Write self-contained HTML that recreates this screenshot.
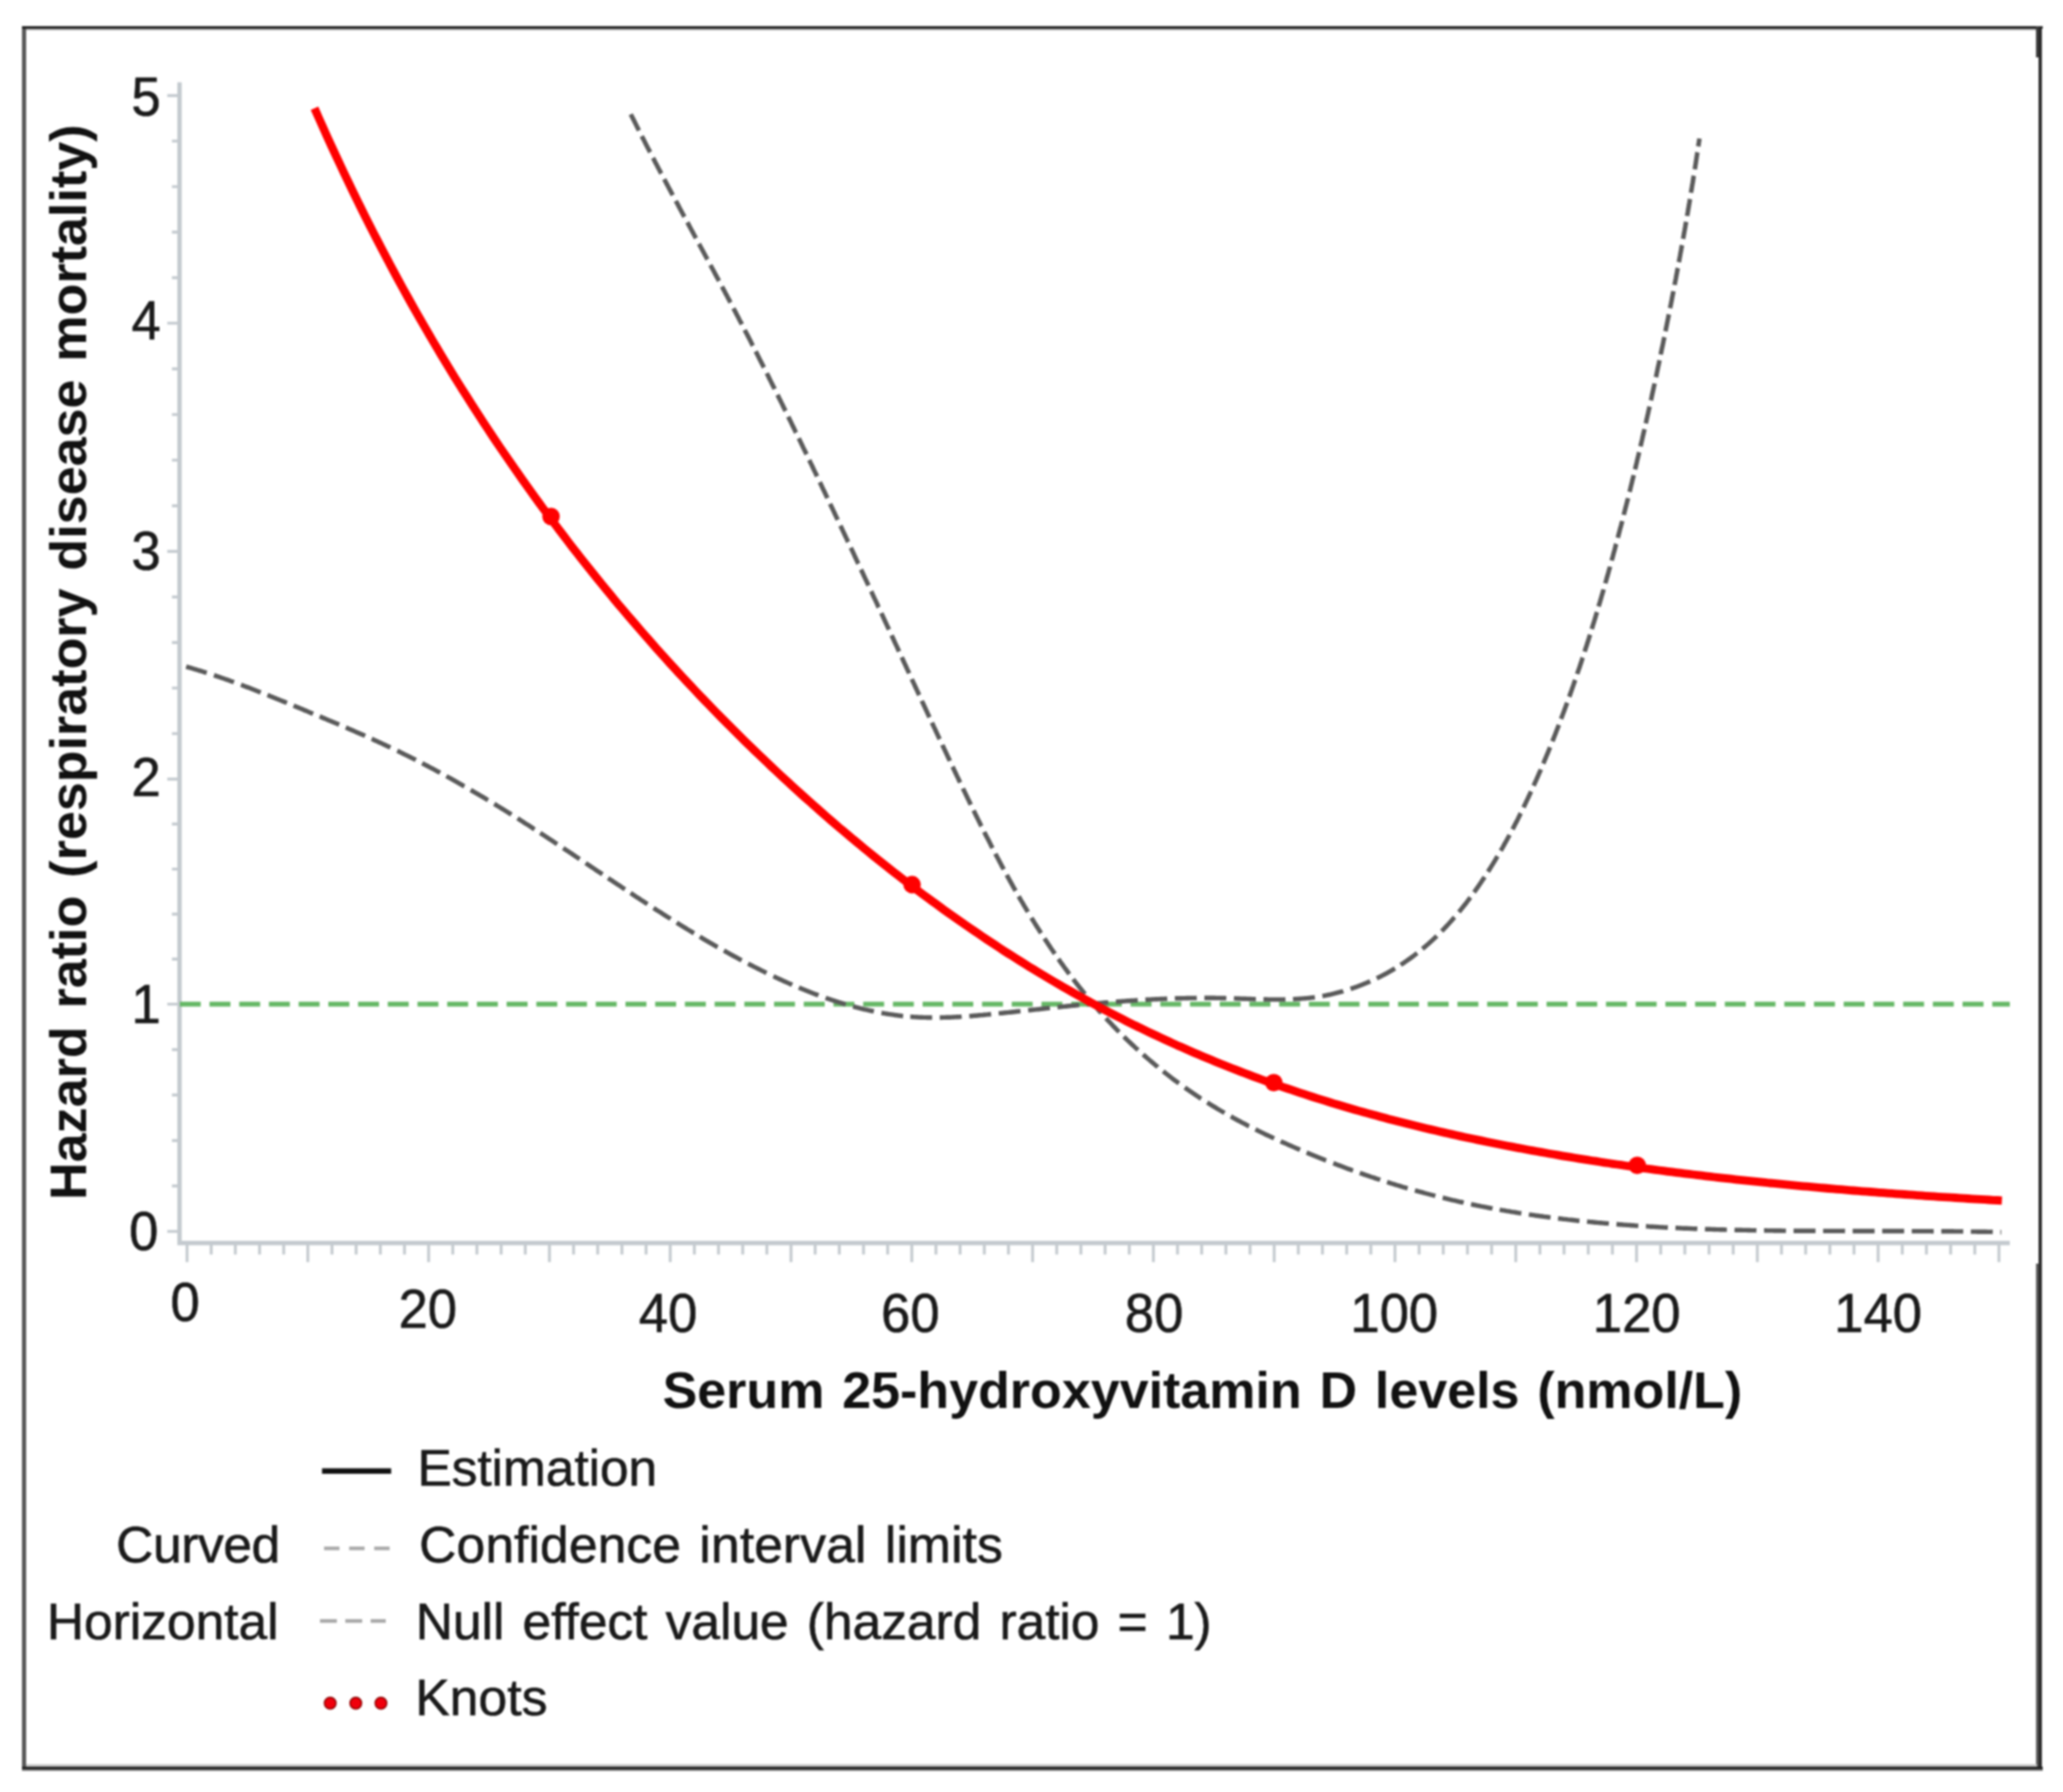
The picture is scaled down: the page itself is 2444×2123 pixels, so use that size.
<!DOCTYPE html>
<html lang="en"><head><meta charset="utf-8"><title>Hazard ratio vs serum 25-hydroxyvitamin D</title>
<style>html,body{margin:0;padding:0;background:#fff}body{width:2444px;height:2123px;overflow:hidden}svg{filter:blur(1px)}</style></head>
<body>
<svg width="2444" height="2123" viewBox="0 0 2444 2123" style="display:block">
<rect width="2444" height="2123" fill="#fff"/>
<g id="frame" shape-rendering="crispEdges">
<rect x="25.5" y="30.5" width="5" height="2067" fill="#585858"/>
<rect x="25.5" y="30.5" width="2394" height="3" fill="#1e1e1e"/>
<rect x="30.5" y="33.5" width="2384" height="2" fill="#b5b5b5"/>
<rect x="2415" y="30.5" width="4.3" height="2067" fill="#2a2a2a"/>
<rect x="2412" y="30.5" width="3" height="37" fill="#3a3a3a"/>
<rect x="2411.8" y="1497" width="3.2" height="598" fill="#5a5a5a"/>
<rect x="25.5" y="2092.5" width="2394" height="3" fill="#222"/>
<rect x="25.5" y="2095.5" width="2394" height="2.2" fill="#7a7a7a"/>
<rect x="30.5" y="2090" width="2382" height="2.5" fill="#c8c8c8"/>
</g>
<g id="axes" stroke="#c4cacf" fill="none">
<path d="M212.7,97.5 V1472.6 H2381" stroke-width="5.2" stroke-linejoin="miter"/>
<path d="M198.2,1458.9 H212.7 M203.7,1405.0 H212.7 M203.7,1351.2 H212.7 M203.7,1297.3 H212.7 M203.7,1243.5 H212.7 M198.2,1189.6 H212.7 M203.7,1136.3 H212.7 M203.7,1083.0 H212.7 M203.7,1029.6 H212.7 M203.7,976.3 H212.7 M198.2,923.0 H212.7 M203.7,869.1 H212.7 M203.7,815.1 H212.7 M203.7,761.2 H212.7 M203.7,707.2 H212.7 M198.2,653.3 H212.7 M203.7,599.2 H212.7 M203.7,545.1 H212.7 M203.7,491.1 H212.7 M203.7,437.0 H212.7 M198.2,382.9 H212.7 M203.7,329.0 H212.7 M203.7,275.0 H212.7 M203.7,221.1 H212.7 M203.7,167.1 H212.7 M198.2,113.2 H212.7 M221.6,1472.3 V1495.3 M250.2,1472.3 V1486.3 M278.8,1472.3 V1486.3 M307.5,1472.3 V1486.3 M336.1,1472.3 V1486.3 M364.7,1472.3 V1495.3 M393.3,1472.3 V1486.3 M421.9,1472.3 V1486.3 M450.6,1472.3 V1486.3 M479.2,1472.3 V1486.3 M507.8,1472.3 V1495.3 M536.4,1472.3 V1486.3 M565.0,1472.3 V1486.3 M593.7,1472.3 V1486.3 M622.3,1472.3 V1486.3 M650.9,1472.3 V1495.3 M679.5,1472.3 V1486.3 M708.1,1472.3 V1486.3 M736.8,1472.3 V1486.3 M765.4,1472.3 V1486.3 M794.0,1472.3 V1495.3 M822.6,1472.3 V1486.3 M851.2,1472.3 V1486.3 M879.9,1472.3 V1486.3 M908.5,1472.3 V1486.3 M937.1,1472.3 V1495.3 M965.7,1472.3 V1486.3 M994.3,1472.3 V1486.3 M1023.0,1472.3 V1486.3 M1051.6,1472.3 V1486.3 M1080.2,1472.3 V1495.3 M1108.8,1472.3 V1486.3 M1137.4,1472.3 V1486.3 M1166.1,1472.3 V1486.3 M1194.7,1472.3 V1486.3 M1223.3,1472.3 V1495.3 M1251.9,1472.3 V1486.3 M1280.5,1472.3 V1486.3 M1309.2,1472.3 V1486.3 M1337.8,1472.3 V1486.3 M1366.4,1472.3 V1495.3 M1395.0,1472.3 V1486.3 M1423.6,1472.3 V1486.3 M1452.3,1472.3 V1486.3 M1480.9,1472.3 V1486.3 M1509.5,1472.3 V1495.3 M1538.1,1472.3 V1486.3 M1566.7,1472.3 V1486.3 M1595.4,1472.3 V1486.3 M1624.0,1472.3 V1486.3 M1652.6,1472.3 V1495.3 M1681.2,1472.3 V1486.3 M1709.8,1472.3 V1486.3 M1738.5,1472.3 V1486.3 M1767.1,1472.3 V1486.3 M1795.7,1472.3 V1495.3 M1824.3,1472.3 V1486.3 M1852.9,1472.3 V1486.3 M1881.6,1472.3 V1486.3 M1910.2,1472.3 V1486.3 M1938.8,1472.3 V1495.3 M1967.4,1472.3 V1486.3 M1996.0,1472.3 V1486.3 M2024.7,1472.3 V1486.3 M2053.3,1472.3 V1486.3 M2081.9,1472.3 V1495.3 M2110.5,1472.3 V1486.3 M2139.1,1472.3 V1486.3 M2167.8,1472.3 V1486.3 M2196.4,1472.3 V1486.3 M2225.0,1472.3 V1495.3 M2253.6,1472.3 V1486.3 M2282.2,1472.3 V1486.3 M2310.9,1472.3 V1486.3 M2339.5,1472.3 V1486.3 M2368.1,1472.3 V1495.3" stroke-width="3.4"/>
</g>
<path d="M213,1189.6 H2381" stroke="#66b866" stroke-width="5.8" stroke-dasharray="24.8 10.4" fill="none"/>
<g fill="none" stroke="#5a5a5a" stroke-width="5.4">
<path d="M747.3,135.4 L748.2,137.2 L749.1,138.9 L750.0,140.7 L750.9,142.5 L751.8,144.3 L752.7,146.1 L753.6,147.9 L754.5,149.7 L755.4,151.5 L756.3,153.3 L756.9,154.6 M760.3,161.3 L761.2,163.1 L762.2,164.8 L763.1,166.6 L764.0,168.4 L764.9,170.2 L765.8,172.0 L766.7,173.7 L767.6,175.5 L768.6,177.3 L769.5,179.1 L770.2,180.4 M773.6,187.1 L774.6,188.8 L775.5,190.6 L776.4,192.4 L777.3,194.1 L778.3,195.9 L779.2,197.7 L780.1,199.5 L781.1,201.2 L782.0,203.0 L782.9,204.8 L783.4,205.6 M786.9,212.3 L787.8,214.0 L788.8,215.8 L789.7,217.6 L790.7,219.3 L791.6,221.1 L792.5,222.9 L793.5,224.6 L794.4,226.4 L795.4,228.2 L796.3,229.9 L797.0,231.2 M800.6,237.9 L801.5,239.6 L802.5,241.4 L803.4,243.1 L804.3,244.9 L805.3,246.7 L806.2,248.4 L807.2,250.2 L808.1,251.9 L809.1,253.7 L810.0,255.5 L810.8,256.8 M814.3,263.4 L815.3,265.1 L816.2,266.9 L817.2,268.7 L818.1,270.4 L819.1,272.2 L820.0,273.9 L821.0,275.7 L821.9,277.5 L822.9,279.2 L823.8,281.0 L824.5,282.3 M828.1,288.9 L829.1,290.7 L830.0,292.4 L831.0,294.2 L831.9,295.9 L832.9,297.7 L833.8,299.5 L834.8,301.2 L835.7,303.0 L836.7,304.7 L837.6,306.5 L838.1,307.4 M841.6,314.0 L842.6,315.7 L843.5,317.5 L844.5,319.3 L845.4,321.0 L846.4,322.8 L847.3,324.6 L848.3,326.3 L849.2,328.1 L850.2,329.8 L851.1,331.6 L851.8,332.9 M855.3,339.5 L856.3,341.3 L857.2,343.1 L858.2,344.8 L859.1,346.6 L860.0,348.4 L861.0,350.1 L861.9,351.9 L862.8,353.7 L863.8,355.4 L864.7,357.2 L865.4,358.5 M868.9,365.2 L869.8,366.9 L870.8,368.7 L871.7,370.5 L872.6,372.3 L873.5,374.0 L874.5,375.8 L875.4,377.6 L876.3,379.4 L877.2,381.1 L878.2,382.9 L878.9,384.2 M882.3,390.9 L883.2,392.7 L884.1,394.4 L885.1,396.2 L886.0,398.0 L886.9,399.8 L887.8,401.6 L888.7,403.3 L889.6,405.1 L890.5,406.9 L891.4,408.7 L891.9,409.6 M895.3,416.3 L896.2,418.0 L897.1,419.8 L898.0,421.6 L898.9,423.4 L899.8,425.2 L900.7,427.0 L901.6,428.7 L902.5,430.5 L903.4,432.3 L904.3,434.1 L905.0,435.4 M908.4,442.1 L909.3,443.9 L910.2,445.7 L911.0,447.5 L911.9,449.3 L912.8,451.1 L913.7,452.9 L914.6,454.7 L915.5,456.5 L916.4,458.3 L917.3,460.0 L917.7,460.9 M921.1,467.7 L922.0,469.5 L922.8,471.2 L923.7,473.0 L924.6,474.8 L925.5,476.6 L926.4,478.4 L927.3,480.2 L928.1,482.0 L929.0,483.8 L929.9,485.6 L930.6,486.9 M933.9,493.7 L934.7,495.5 L935.6,497.3 L936.5,499.1 L937.4,500.9 L938.2,502.7 L939.1,504.5 L940.0,506.3 L940.9,508.1 L941.7,509.9 L942.6,511.7 L943.1,512.6 M946.3,519.3 L947.2,521.1 L948.1,522.9 L948.9,524.7 L949.8,526.5 L950.7,528.3 L951.5,530.1 L952.4,531.9 L953.3,533.7 L954.2,535.5 L955.0,537.3 L955.5,538.2 M958.7,545.0 L959.6,546.8 L960.4,548.6 L961.3,550.4 L962.2,552.2 L963.0,554.0 L963.9,555.8 L964.7,557.6 L965.6,559.4 L966.5,561.2 L967.3,563.0 L968.0,564.4 M971.2,571.2 L972.1,573.0 L972.9,574.8 L973.8,576.6 L974.6,578.4 L975.5,580.2 L976.4,582.0 L977.2,583.8 L978.1,585.6 L978.9,587.4 L979.8,589.2 L980.2,590.1 M983.4,596.9 L984.3,598.7 L985.1,600.5 L986.0,602.3 L986.9,604.1 L987.7,605.9 L988.6,607.7 L989.4,609.6 L990.3,611.4 L991.1,613.2 L992.0,615.0 L992.4,615.9 M995.6,622.7 L996.5,624.5 L997.3,626.3 L998.2,628.1 L999.0,629.9 L999.9,631.7 L1000.7,633.5 L1001.6,635.3 L1002.4,637.1 L1003.3,638.9 L1004.1,640.8 L1004.8,642.1 M1008.0,648.9 L1008.8,650.7 L1009.7,652.5 L1010.5,654.3 L1011.4,656.1 L1012.2,658.0 L1013.0,659.8 L1013.9,661.6 L1014.7,663.4 L1015.6,665.2 L1016.4,667.0 L1016.9,667.9 M1020.0,674.7 L1020.9,676.5 L1021.7,678.3 L1022.6,680.1 L1023.4,682.0 L1024.3,683.8 L1025.1,685.6 L1026.0,687.4 L1026.8,689.2 L1027.7,691.0 L1028.5,692.8 L1028.9,693.7 M1032.1,700.5 L1033.0,702.3 L1033.8,704.2 L1034.6,706.0 L1035.5,707.8 L1036.3,709.6 L1037.2,711.4 L1038.0,713.2 L1038.9,715.0 L1039.7,716.9 L1040.5,718.7 L1041.0,719.6 M1044.1,726.4 L1045.0,728.2 L1045.8,730.0 L1046.6,731.8 L1047.5,733.6 L1048.3,735.5 L1049.2,737.3 L1050.0,739.1 L1050.8,740.9 L1051.7,742.7 L1052.5,744.5 L1053.2,745.9 M1056.3,752.7 L1057.1,754.5 L1058.0,756.3 L1058.8,758.1 L1059.6,760.0 L1060.5,761.8 L1061.3,763.6 L1062.2,765.4 L1063.0,767.2 L1063.8,769.0 L1064.7,770.9 L1065.1,771.8 M1068.2,778.6 L1069.1,780.4 L1069.9,782.2 L1070.7,784.0 L1071.6,785.8 L1072.4,787.7 L1073.3,789.5 L1074.1,791.3 L1074.9,793.1 L1075.8,794.9 L1076.6,796.7 L1077.0,797.7 M1080.2,804.5 L1081.0,806.3 L1081.8,808.1 L1082.7,809.9 L1083.5,811.7 L1084.3,813.5 L1085.2,815.4 L1086.0,817.2 L1086.9,819.0 L1087.7,820.8 L1088.5,822.6 L1089.0,823.5 M1092.1,830.3 L1092.9,832.2 L1093.8,834.0 L1094.6,835.8 L1095.5,837.6 L1096.3,839.4 L1097.1,841.2 L1098.0,843.0 L1098.8,844.9 L1099.7,846.7 L1100.5,848.5 L1101.1,849.8 M1104.1,856.2 L1104.9,858.0 L1105.8,859.8 L1106.6,861.6 L1107.5,863.4 L1108.3,865.3 L1109.2,867.1 L1110.0,868.9 L1110.8,870.7 L1111.7,872.5 L1112.5,874.3 L1113.2,875.7 M1116.4,882.5 L1117.2,884.3 L1118.1,886.1 L1118.9,887.9 L1119.8,889.7 L1120.6,891.5 L1121.5,893.3 L1122.3,895.1 L1123.2,897.0 L1124.0,898.8 L1124.9,900.6 L1125.3,901.5 M1128.5,908.3 L1129.4,910.1 L1130.2,911.9 L1131.1,913.7 L1131.9,915.5 L1132.8,917.3 L1133.6,919.1 L1134.5,920.9 L1135.4,922.7 L1136.2,924.5 L1137.1,926.3 L1137.5,927.2 M1140.8,934.0 L1141.6,935.8 L1142.5,937.6 L1143.4,939.4 L1144.2,941.2 L1145.1,943.0 L1146.0,944.8 L1146.8,946.6 L1147.7,948.4 L1148.6,950.2 L1149.4,952.0 L1150.1,953.4 M1153.4,960.1 L1154.3,961.9 L1155.1,963.7 L1156.0,965.5 L1156.9,967.3 L1157.8,969.1 L1158.7,970.9 L1159.6,972.7 L1160.5,974.4 L1161.3,976.2 L1162.2,978.0 L1162.7,978.9 M1166.0,985.6 L1166.9,987.4 L1167.8,989.2 L1168.7,991.0 L1169.7,992.8 L1170.6,994.5 L1171.5,996.3 L1172.4,998.1 L1173.3,999.9 L1174.2,1001.7 L1175.1,1003.4 L1175.8,1004.8 M1179.3,1011.4 L1180.2,1013.2 L1181.1,1015.0 L1182.1,1016.8 L1183.0,1018.5 L1183.9,1020.3 L1184.9,1022.1 L1185.8,1023.8 L1186.7,1025.6 L1187.7,1027.3 L1188.6,1029.1 L1189.1,1030.0 M1192.7,1036.6 L1193.6,1038.3 L1194.6,1040.1 L1195.6,1041.8 L1196.5,1043.6 L1197.5,1045.3 L1198.5,1047.1 L1199.4,1048.8 L1200.4,1050.6 L1201.4,1052.3 L1202.4,1054.1 L1203.1,1055.4 M1206.8,1061.9 L1207.8,1063.6 L1208.8,1065.4 L1209.8,1067.1 L1210.9,1068.8 L1211.9,1070.5 L1212.9,1072.3 L1213.9,1074.0 L1214.9,1075.7 L1215.9,1077.4 L1217.0,1079.1 L1217.7,1080.4 M1221.9,1087.3 L1222.9,1089.0 L1224.0,1090.7 L1225.0,1092.4 L1226.1,1094.1 L1227.1,1095.8 L1228.2,1097.5 L1229.3,1099.2 L1230.3,1100.9 L1231.4,1102.5 L1232.5,1104.2 L1233.3,1105.5 M1237.4,1111.8 L1238.5,1113.5 L1239.6,1115.1 L1240.7,1116.8 L1241.8,1118.5 L1242.9,1120.1 L1244.0,1121.8 L1245.1,1123.4 L1246.2,1125.1 L1247.4,1126.8 L1248.5,1128.4 L1249.6,1130.0 M1253.9,1136.2 L1255.1,1137.8 L1256.2,1139.5 L1257.4,1141.1 L1258.6,1142.7 L1259.7,1144.3 L1260.9,1146.0 L1262.1,1147.6 L1263.3,1149.2 L1264.5,1150.8 L1265.6,1152.4 L1266.8,1154.0 M1271.4,1160.0 L1272.6,1161.6 L1273.8,1163.2 L1275.0,1164.7 L1276.3,1166.3 L1277.5,1167.9 L1278.7,1169.5 L1280.0,1171.0 L1281.2,1172.6 L1282.5,1174.1 L1283.7,1175.7 L1285.0,1177.2 L1285.3,1177.6 M1290.1,1183.4 L1291.4,1184.9 L1292.7,1186.5 L1294.0,1188.0 L1295.3,1189.5 L1296.6,1191.0 L1297.9,1192.5 L1299.2,1194.1 L1300.5,1195.6 L1301.8,1197.1 L1303.2,1198.6 L1304.5,1200.0 L1304.8,1200.4 M1310.2,1206.3 L1311.6,1207.8 L1312.9,1209.3 L1314.3,1210.7 L1315.7,1212.2 L1317.1,1213.6 L1318.4,1215.1 L1319.8,1216.5 L1321.2,1217.9 L1322.6,1219.4 L1324.0,1220.8 L1325.4,1222.2 L1325.8,1222.6 M1331.5,1228.2 L1332.9,1229.6 L1334.3,1231.0 L1335.8,1232.4 L1337.2,1233.8 L1338.7,1235.1 L1340.1,1236.5 L1341.6,1237.9 L1343.1,1239.2 L1344.5,1240.6 L1346.0,1242.0 L1347.5,1243.3 L1348.2,1244.0 M1354.2,1249.3 L1355.7,1250.6 L1357.2,1251.9 L1358.7,1253.2 L1360.2,1254.5 L1361.7,1255.8 L1363.3,1257.1 L1364.8,1258.4 L1366.3,1259.7 L1367.9,1261.0 L1369.4,1262.3 L1371.0,1263.5 L1371.7,1264.2 M1378.0,1269.2 L1379.5,1270.4 L1381.1,1271.7 L1382.7,1272.9 L1384.3,1274.1 L1385.9,1275.3 L1387.4,1276.5 L1389.0,1277.8 L1390.6,1279.0 L1392.2,1280.2 L1393.8,1281.3 L1395.4,1282.5 L1396.7,1283.4 M1403.6,1288.4 L1405.2,1289.5 L1406.8,1290.7 L1408.5,1291.8 L1410.1,1293.0 L1411.8,1294.1 L1413.4,1295.2 L1415.1,1296.3 L1416.7,1297.5 L1418.4,1298.6 L1420.1,1299.7 L1421.7,1300.8 L1423.0,1301.6 M1430.2,1306.2 L1431.9,1307.2 L1433.6,1308.3 L1435.3,1309.3 L1437.0,1310.4 L1438.7,1311.4 L1440.4,1312.4 L1442.1,1313.5 L1443.8,1314.5 L1445.5,1315.5 L1447.3,1316.5 L1449.0,1317.5 L1450.7,1318.5 M1458.1,1322.7 L1459.9,1323.7 L1461.6,1324.6 L1463.4,1325.6 L1465.1,1326.5 L1466.9,1327.5 L1468.7,1328.4 L1470.4,1329.4 L1472.2,1330.3 L1474.0,1331.2 L1475.8,1332.2 L1477.5,1333.1 L1479.3,1334.0 L1479.8,1334.2 M1487.3,1338.0 L1489.1,1338.9 L1490.9,1339.8 L1492.7,1340.7 L1494.5,1341.6 L1496.3,1342.4 L1498.1,1343.3 L1499.9,1344.2 L1501.7,1345.0 L1503.6,1345.9 L1505.4,1346.7 L1507.2,1347.6 L1509.0,1348.4 L1509.4,1348.6 M1517.2,1352.1 L1519.0,1353.0 L1520.8,1353.8 L1522.7,1354.6 L1524.5,1355.4 L1526.3,1356.2 L1528.1,1357.0 L1530.0,1357.8 L1531.8,1358.6 L1533.6,1359.4 L1535.5,1360.2 L1537.3,1361.0 L1539.2,1361.8 L1540.1,1362.2 M1547.9,1365.5 L1549.8,1366.2 L1551.6,1367.0 L1553.5,1367.8 L1555.3,1368.5 L1557.2,1369.3 L1559.0,1370.0 L1560.9,1370.8 L1562.7,1371.5 L1564.6,1372.3 L1566.4,1373.0 L1568.3,1373.7 L1570.2,1374.5 L1571.1,1374.8 M1579.5,1378.1 L1581.4,1378.8 L1583.2,1379.5 L1585.1,1380.2 L1587.0,1380.9 L1588.8,1381.6 L1590.7,1382.3 L1592.6,1383.0 L1594.5,1383.7 L1596.3,1384.4 L1598.2,1385.1 L1600.1,1385.8 L1602.0,1386.5 L1602.9,1386.8 M1610.9,1389.6 L1612.8,1390.3 L1614.7,1390.9 L1616.6,1391.6 L1618.5,1392.2 L1620.4,1392.9 L1622.3,1393.5 L1624.2,1394.2 L1626.1,1394.8 L1628.0,1395.4 L1629.9,1396.1 L1631.8,1396.7 L1633.7,1397.3 L1635.1,1397.8 M1643.2,1400.4 L1645.1,1401.0 L1647.0,1401.6 L1648.9,1402.2 L1650.8,1402.8 L1652.7,1403.4 L1654.6,1404.0 L1656.6,1404.5 L1658.5,1405.1 L1660.4,1405.7 L1662.3,1406.3 L1664.2,1406.8 L1666.1,1407.4 L1667.6,1407.8 M1676.2,1410.3 L1678.2,1410.8 L1680.1,1411.4 L1682.0,1411.9 L1683.9,1412.4 L1685.9,1412.9 L1687.8,1413.5 L1689.7,1414.0 L1691.7,1414.5 L1693.6,1415.0 L1695.5,1415.5 L1697.5,1416.0 L1699.4,1416.5 L1700.4,1416.8 M1709.1,1419.0 L1711.0,1419.4 L1713.0,1419.9 L1714.9,1420.4 L1716.9,1420.9 L1718.8,1421.3 L1720.8,1421.8 L1722.7,1422.2 L1724.7,1422.7 L1726.6,1423.1 L1728.6,1423.6 L1730.5,1424.0 L1732.5,1424.4 L1733.9,1424.8 M1742.7,1426.7 L1744.7,1427.1 L1746.6,1427.5 L1748.6,1427.9 L1750.6,1428.3 L1752.5,1428.7 L1754.5,1429.1 L1756.5,1429.4 L1758.4,1429.8 L1760.4,1430.2 L1762.3,1430.6 L1764.3,1431.0 L1766.3,1431.3 L1768.2,1431.7 M1776.6,1433.2 L1778.6,1433.6 L1780.5,1433.9 L1782.5,1434.2 L1784.5,1434.6 L1786.5,1434.9 L1788.4,1435.2 L1790.4,1435.6 L1792.4,1435.9 L1794.4,1436.2 L1796.3,1436.5 L1798.3,1436.9 L1800.3,1437.2 L1802.3,1437.5 M1811.2,1438.8 L1813.1,1439.1 L1815.1,1439.4 L1817.1,1439.7 L1819.1,1440.0 L1821.0,1440.2 L1823.0,1440.5 L1825.0,1440.8 L1827.0,1441.0 L1829.0,1441.3 L1831.0,1441.6 L1832.9,1441.8 L1834.9,1442.1 L1836.9,1442.4 M1845.8,1443.5 L1847.8,1443.7 L1849.8,1443.9 L1851.8,1444.2 L1853.8,1444.4 L1855.8,1444.6 L1857.8,1444.9 L1859.7,1445.1 L1861.7,1445.3 L1863.7,1445.5 L1865.7,1445.7 L1867.7,1446.0 L1869.7,1446.2 L1871.2,1446.3 M1880.1,1447.2 L1882.1,1447.4 L1884.1,1447.6 L1886.1,1447.8 L1888.1,1448.0 L1890.1,1448.2 L1892.1,1448.4 L1894.1,1448.6 L1896.1,1448.7 L1898.1,1448.9 L1900.0,1449.1 L1902.0,1449.3 L1904.0,1449.4 L1906.0,1449.6 M1915.0,1450.3 L1917.0,1450.5 L1919.0,1450.7 L1921.0,1450.8 L1923.0,1451.0 L1925.0,1451.1 L1927.0,1451.3 L1929.0,1451.4 L1930.9,1451.5 L1932.9,1451.7 L1934.9,1451.8 L1936.9,1452.0 L1938.9,1452.1 L1940.9,1452.2 M1949.9,1452.8 L1951.9,1452.9 L1953.9,1453.1 L1955.9,1453.2 L1957.9,1453.3 L1959.9,1453.4 L1961.9,1453.5 L1963.9,1453.6 L1965.9,1453.8 L1967.9,1453.9 L1969.9,1454.0 L1971.9,1454.1 L1973.9,1454.2 L1975.9,1454.3 M1984.9,1454.7 L1986.9,1454.8 L1988.8,1454.9 L1990.8,1455.0 L1992.8,1455.1 L1994.8,1455.2 L1996.8,1455.3 L1998.8,1455.3 L2000.8,1455.4 L2002.8,1455.5 L2004.8,1455.6 L2006.8,1455.7 L2008.8,1455.7 L2010.8,1455.8 M2019.8,1456.1 L2021.8,1456.2 L2023.8,1456.3 L2025.8,1456.3 L2027.8,1456.4 L2029.8,1456.5 L2031.8,1456.5 L2033.8,1456.6 L2035.8,1456.6 L2037.8,1456.7 L2039.8,1456.8 L2041.8,1456.8 L2043.8,1456.9 L2045.8,1456.9 M2054.8,1457.1 L2056.8,1457.2 L2058.8,1457.2 L2060.8,1457.3 L2062.8,1457.3 L2064.8,1457.4 L2066.8,1457.4 L2068.8,1457.4 L2070.8,1457.5 L2072.8,1457.5 L2074.8,1457.6 L2076.8,1457.6 L2078.8,1457.6 L2080.8,1457.7 M2089.8,1457.8 L2091.8,1457.8 L2093.8,1457.9 L2095.8,1457.9 L2097.8,1457.9 L2099.8,1457.9 L2101.8,1458.0 L2103.8,1458.0 L2105.8,1458.0 L2107.8,1458.0 L2109.8,1458.0 L2111.8,1458.1 L2113.8,1458.1 L2115.8,1458.1 M2124.8,1458.2 L2126.8,1458.2 L2128.8,1458.2 L2130.8,1458.2 L2132.8,1458.2 L2134.8,1458.3 L2136.8,1458.3 L2138.8,1458.3 L2140.8,1458.3 L2142.8,1458.3 L2144.8,1458.3 L2146.8,1458.3 L2148.8,1458.3 L2150.8,1458.3 M2159.8,1458.4 L2161.8,1458.4 L2163.8,1458.4 L2165.8,1458.4 L2167.8,1458.4 L2169.8,1458.4 L2171.8,1458.4 L2173.8,1458.4 L2175.8,1458.4 L2177.8,1458.4 L2179.8,1458.4 L2181.8,1458.4 L2183.8,1458.4 L2185.8,1458.5 M2194.8,1458.5 L2196.8,1458.5 L2198.8,1458.5 L2200.8,1458.5 L2202.8,1458.5 L2204.8,1458.5 L2206.8,1458.5 L2208.8,1458.5 L2210.8,1458.5 L2212.8,1458.5 L2214.8,1458.5 L2216.8,1458.5 L2218.8,1458.5 L2220.8,1458.5 M2229.8,1458.5 L2231.8,1458.5 L2233.8,1458.5 L2235.8,1458.5 L2237.8,1458.5 L2239.8,1458.5 L2241.8,1458.5 L2243.8,1458.5 L2245.8,1458.5 L2247.8,1458.5 L2249.8,1458.5 L2251.8,1458.5 L2253.8,1458.5 L2255.8,1458.5 M2264.8,1458.6 L2266.8,1458.6 L2268.8,1458.6 L2270.8,1458.6 L2272.8,1458.6 L2274.8,1458.6 L2276.8,1458.6 L2278.8,1458.6 L2280.8,1458.6 L2282.8,1458.6 L2284.8,1458.6 L2286.8,1458.6 L2288.8,1458.7 L2290.8,1458.7 M2299.8,1458.7 L2301.8,1458.7 L2303.8,1458.7 L2305.8,1458.8 L2307.8,1458.8 L2309.8,1458.8 L2311.8,1458.8 L2313.8,1458.8 L2315.8,1458.9 L2317.8,1458.9 L2319.8,1458.9 L2321.8,1458.9 L2323.8,1458.9 L2325.8,1459.0 M2334.8,1459.1 L2336.8,1459.1 L2338.8,1459.1 L2340.8,1459.1 L2342.8,1459.2 L2344.8,1459.2 L2346.8,1459.2 L2348.8,1459.3 L2350.8,1459.3 L2352.8,1459.3 L2354.8,1459.4 L2356.8,1459.4 L2358.8,1459.4 L2360.8,1459.5 M2369.8,1459.7 L2370.8,1459.7"/>
<path d="M220.5,789.8 L222.4,790.3 L224.4,790.9 L226.3,791.4 L228.2,792.0 L230.1,792.6 L232.0,793.1 L233.9,793.7 L235.9,794.3 L237.8,794.9 L239.7,795.5 L241.6,796.1 L243.5,796.7 L244.9,797.1 M253.5,799.9 L255.4,800.6 L257.3,801.2 L259.2,801.9 L261.1,802.5 L262.9,803.2 L264.8,803.8 L266.7,804.5 L268.6,805.1 L270.5,805.8 L272.4,806.5 L274.3,807.2 L276.1,807.8 L277.1,808.2 M285.5,811.3 L287.4,812.0 L289.3,812.7 L291.1,813.4 L293.0,814.1 L294.9,814.8 L296.7,815.5 L298.6,816.3 L300.5,817.0 L302.3,817.7 L304.2,818.4 L306.1,819.2 L307.9,819.9 L308.9,820.3 M316.8,823.4 L318.6,824.1 L320.5,824.9 L322.3,825.6 L324.2,826.4 L326.0,827.1 L327.9,827.9 L329.7,828.6 L331.6,829.4 L333.4,830.1 L335.3,830.9 L337.2,831.6 L339.0,832.4 L339.9,832.8 M347.8,836.0 L349.6,836.8 L351.5,837.5 L353.3,838.3 L355.2,839.1 L357.0,839.8 L358.9,840.6 L360.7,841.4 L362.6,842.1 L364.4,842.9 L366.3,843.7 L368.1,844.4 L370.0,845.2 L370.9,845.6 M378.7,848.8 L380.6,849.6 L382.4,850.4 L384.3,851.1 L386.1,851.9 L388.0,852.7 L389.8,853.5 L391.7,854.2 L393.5,855.0 L395.3,855.8 L397.2,856.6 L399.0,857.3 L400.9,858.1 L401.8,858.5 M409.6,861.9 L411.4,862.6 L413.3,863.4 L415.1,864.2 L417.0,865.0 L418.8,865.8 L420.6,866.6 L422.5,867.4 L424.3,868.2 L426.1,869.0 L427.9,869.8 L429.8,870.6 L431.6,871.4 L432.5,871.9 M440.3,875.3 L442.1,876.1 L443.9,877.0 L445.7,877.8 L447.6,878.6 L449.4,879.5 L451.2,880.3 L453.0,881.1 L454.8,882.0 L456.6,882.8 L458.4,883.7 L460.3,884.5 L462.1,885.4 L462.5,885.6 M470.6,889.5 L472.4,890.3 L474.2,891.2 L476.0,892.1 L477.8,893.0 L479.6,893.9 L481.4,894.7 L483.2,895.6 L485.0,896.5 L486.8,897.4 L488.6,898.3 L490.4,899.2 L492.1,900.1 L492.6,900.4 M500.2,904.2 L501.9,905.2 L503.7,906.1 L505.5,907.0 L507.2,907.9 L509.0,908.9 L510.8,909.8 L512.5,910.7 L514.3,911.7 L516.1,912.6 L517.8,913.6 L519.6,914.5 L521.4,915.5 M528.8,919.5 L530.6,920.5 L532.3,921.5 L534.1,922.4 L535.8,923.4 L537.6,924.4 L539.3,925.4 L541.1,926.4 L542.8,927.3 L544.5,928.3 L546.3,929.3 L548.0,930.3 L549.8,931.3 L550.2,931.5 M557.6,935.8 L559.3,936.8 L561.0,937.8 L562.7,938.8 L564.5,939.8 L566.2,940.8 L567.9,941.8 L569.6,942.9 L571.4,943.9 L573.1,944.9 L574.8,945.9 L576.5,947.0 L578.2,948.0 M585.5,952.4 L587.2,953.4 L588.9,954.5 L590.6,955.5 L592.3,956.5 L594.0,957.6 L595.7,958.6 L597.4,959.7 L599.1,960.7 L600.8,961.8 L602.5,962.9 L604.2,963.9 L605.9,965.0 M613.1,969.5 L614.8,970.6 L616.5,971.7 L618.2,972.7 L619.9,973.8 L621.5,974.9 L623.2,976.0 L624.9,977.0 L626.6,978.1 L628.3,979.2 L630.0,980.3 L631.6,981.4 L633.3,982.5 M640.0,986.8 L641.7,987.9 L643.4,989.0 L645.0,990.1 L646.7,991.2 L648.4,992.3 L650.1,993.4 L651.7,994.5 L653.4,995.6 L655.1,996.7 L656.7,997.8 L658.4,998.9 L660.1,1000.0 M667.2,1004.7 L668.8,1005.8 L670.5,1006.9 L672.2,1008.0 L673.8,1009.1 L675.5,1010.2 L677.2,1011.3 L678.8,1012.5 L680.5,1013.6 L682.1,1014.7 L683.8,1015.8 L685.5,1016.9 L686.7,1017.7 M693.8,1022.5 L695.4,1023.6 L697.1,1024.7 L698.8,1025.8 L700.4,1026.9 L702.1,1028.0 L703.8,1029.1 L705.4,1030.3 L707.1,1031.4 L708.7,1032.5 L710.4,1033.6 L712.1,1034.7 L713.7,1035.8 M720.4,1040.3 L722.0,1041.4 L723.7,1042.5 L725.4,1043.6 L727.0,1044.7 L728.7,1045.8 L730.4,1046.9 L732.0,1048.0 L733.7,1049.1 L735.4,1050.2 L737.0,1051.4 L738.7,1052.5 L740.4,1053.6 M747.0,1058.0 L748.7,1059.1 L750.4,1060.2 L752.0,1061.3 L753.7,1062.4 L755.4,1063.5 L757.1,1064.6 L758.7,1065.7 L760.4,1066.8 L762.1,1067.8 L763.8,1068.9 L765.4,1070.0 L767.1,1071.1 M774.2,1075.7 L775.9,1076.8 L777.6,1077.9 L779.3,1079.0 L781.0,1080.0 L782.7,1081.1 L784.4,1082.2 L786.0,1083.3 L787.7,1084.3 L789.4,1085.4 L791.1,1086.5 L792.8,1087.5 L794.5,1088.6 M801.7,1093.1 L803.4,1094.2 L805.1,1095.2 L806.8,1096.3 L808.5,1097.3 L810.2,1098.4 L811.9,1099.4 L813.6,1100.5 L815.3,1101.5 L817.0,1102.5 L818.8,1103.6 L820.5,1104.6 L822.2,1105.6 M829.0,1109.7 L830.8,1110.8 L832.5,1111.8 L834.2,1112.8 L835.9,1113.8 L837.7,1114.8 L839.4,1115.8 L841.1,1116.8 L842.9,1117.8 L844.6,1118.8 L846.3,1119.8 L848.1,1120.8 L849.8,1121.8 L850.2,1122.0 M857.6,1126.2 L859.4,1127.2 L861.1,1128.2 L862.9,1129.1 L864.6,1130.1 L866.4,1131.1 L868.1,1132.0 L869.9,1133.0 L871.7,1133.9 L873.4,1134.9 L875.2,1135.8 L876.9,1136.8 L878.7,1137.7 M886.2,1141.7 L888.0,1142.6 L889.8,1143.5 L891.6,1144.4 L893.3,1145.3 L895.1,1146.2 L896.9,1147.1 L898.7,1148.0 L900.5,1148.9 L902.3,1149.8 L904.1,1150.7 L905.9,1151.6 L907.7,1152.5 L908.1,1152.7 M916.2,1156.6 L918.0,1157.4 L919.8,1158.3 L921.7,1159.1 L923.5,1160.0 L925.3,1160.8 L927.1,1161.6 L928.9,1162.5 L930.8,1163.3 L932.6,1164.1 L934.4,1164.9 L936.2,1165.7 L938.1,1166.5 L938.5,1166.7 M946.4,1170.0 L948.2,1170.8 L950.1,1171.5 L951.9,1172.3 L953.8,1173.0 L955.6,1173.8 L957.5,1174.5 L959.3,1175.3 L961.2,1176.0 L963.1,1176.7 L964.9,1177.4 L966.8,1178.1 L968.7,1178.8 L969.6,1179.2 M978.1,1182.2 L980.0,1182.9 L981.9,1183.5 L983.8,1184.1 L985.7,1184.8 L987.6,1185.4 L989.5,1186.0 L991.4,1186.6 L993.3,1187.2 L995.2,1187.8 L997.1,1188.4 L999.0,1189.0 L1000.9,1189.6 L1001.9,1189.9 M1010.6,1192.3 L1012.5,1192.8 L1014.4,1193.3 L1016.4,1193.8 L1018.3,1194.3 L1020.2,1194.8 L1022.2,1195.3 L1024.1,1195.8 L1026.1,1196.2 L1028.0,1196.7 L1030.0,1197.1 L1031.9,1197.5 L1033.9,1197.9 L1035.3,1198.2 M1044.2,1200.0 L1046.1,1200.3 L1048.1,1200.7 L1050.1,1201.0 L1052.1,1201.3 L1054.0,1201.6 L1056.0,1201.9 L1058.0,1202.2 L1060.0,1202.5 L1062.0,1202.7 L1063.9,1203.0 L1065.9,1203.2 L1067.9,1203.5 L1069.9,1203.7 M1078.4,1204.5 L1080.4,1204.6 L1082.4,1204.8 L1084.4,1204.9 L1086.4,1205.0 L1088.3,1205.1 L1090.3,1205.2 L1092.3,1205.3 L1094.3,1205.4 L1096.3,1205.4 L1098.3,1205.5 L1100.3,1205.5 L1102.3,1205.5 L1104.3,1205.5 M1113.3,1205.5 L1115.3,1205.5 L1117.3,1205.4 L1119.3,1205.4 L1121.3,1205.3 L1123.3,1205.2 L1125.3,1205.2 L1127.3,1205.1 L1129.3,1205.0 L1131.3,1204.9 L1133.3,1204.8 L1135.3,1204.7 L1137.3,1204.6 L1139.3,1204.4 M1148.3,1203.8 L1150.3,1203.7 L1152.3,1203.5 L1154.3,1203.3 L1156.3,1203.2 L1158.3,1203.0 L1160.3,1202.8 L1162.2,1202.6 L1164.2,1202.5 L1166.2,1202.3 L1168.2,1202.1 L1170.2,1201.9 L1172.2,1201.7 L1174.2,1201.5 M1183.1,1200.6 L1185.1,1200.4 L1187.1,1200.2 L1189.1,1200.0 L1191.1,1199.8 L1193.1,1199.6 L1195.1,1199.4 L1197.1,1199.2 L1199.1,1199.0 L1201.1,1198.8 L1203.0,1198.5 L1205.0,1198.3 L1207.0,1198.1 L1209.0,1197.9 M1218.0,1196.9 L1219.9,1196.7 L1221.9,1196.5 L1223.9,1196.3 L1225.9,1196.1 L1227.9,1195.9 L1229.9,1195.7 L1231.9,1195.5 L1233.9,1195.2 L1235.9,1195.0 L1237.8,1194.8 L1239.8,1194.6 L1241.8,1194.4 L1243.8,1194.2 M1252.8,1193.2 L1254.7,1193.0 L1256.7,1192.8 L1258.7,1192.6 L1260.7,1192.4 L1262.7,1192.2 L1264.7,1192.0 L1266.7,1191.8 L1268.7,1191.6 L1270.7,1191.4 L1272.7,1191.2 L1274.6,1191.0 L1276.6,1190.8 L1278.6,1190.6 M1287.6,1189.8 L1289.6,1189.6 L1291.6,1189.4 L1293.6,1189.2 L1295.6,1189.1 L1297.5,1188.9 L1299.5,1188.7 L1301.5,1188.5 L1303.5,1188.4 L1305.5,1188.2 L1307.5,1188.0 L1309.5,1187.8 L1311.5,1187.7 L1313.0,1187.6 M1322.0,1186.8 L1324.0,1186.7 L1325.9,1186.5 L1327.9,1186.4 L1329.9,1186.2 L1331.9,1186.1 L1333.9,1185.9 L1335.9,1185.8 L1337.9,1185.7 L1339.9,1185.5 L1341.9,1185.4 L1343.9,1185.3 L1345.9,1185.1 L1347.9,1185.0 M1356.9,1184.5 L1358.9,1184.3 L1360.9,1184.2 L1362.9,1184.1 L1364.9,1184.0 L1366.9,1183.9 L1368.9,1183.8 L1370.9,1183.7 L1372.9,1183.6 L1374.9,1183.5 L1376.9,1183.5 L1378.9,1183.4 L1380.9,1183.3 L1382.8,1183.2 M1391.8,1182.9 L1393.8,1182.8 L1395.8,1182.8 L1397.8,1182.7 L1399.8,1182.7 L1401.8,1182.6 L1403.8,1182.6 L1405.8,1182.5 L1407.8,1182.5 L1409.8,1182.4 L1411.8,1182.4 L1413.8,1182.4 L1415.8,1182.4 L1417.8,1182.3 M1426.8,1182.3 L1428.8,1182.3 L1430.8,1182.3 L1432.8,1182.3 L1434.8,1182.3 L1436.8,1182.3 L1438.8,1182.3 L1440.8,1182.4 L1442.8,1182.4 L1444.8,1182.4 L1446.8,1182.5 L1448.8,1182.5 L1450.8,1182.5 L1452.8,1182.6 M1461.8,1182.8 L1463.8,1182.9 L1465.8,1183.0 L1467.8,1183.0 L1469.8,1183.1 L1471.8,1183.2 L1473.8,1183.2 L1475.8,1183.3 L1477.8,1183.4 L1479.8,1183.5 L1481.8,1183.5 L1483.8,1183.6 L1485.8,1183.7 L1487.8,1183.7 M1496.8,1184.0 L1498.8,1184.0 L1500.8,1184.0 L1502.8,1184.1 L1504.8,1184.1 L1506.8,1184.1 L1508.8,1184.1 L1510.8,1184.1 L1512.8,1184.1 L1514.8,1184.1 L1516.8,1184.1 L1518.8,1184.1 L1520.8,1184.1 L1522.8,1184.0 M1531.8,1183.7 L1533.8,1183.6 L1535.8,1183.5 L1537.8,1183.4 L1539.8,1183.2 L1541.8,1183.1 L1543.8,1182.9 L1545.8,1182.8 L1547.8,1182.6 L1549.8,1182.4 L1551.7,1182.2 L1553.7,1181.9 L1555.7,1181.7 L1557.7,1181.4 M1566.6,1180.0 L1568.6,1179.7 L1570.5,1179.3 L1572.5,1178.9 L1574.4,1178.5 L1576.4,1178.1 L1578.3,1177.6 L1580.3,1177.2 L1582.2,1176.7 L1584.2,1176.2 L1586.1,1175.7 L1588.0,1175.2 L1590.0,1174.7 L1591.4,1174.2 M1600.0,1171.6 L1601.9,1170.9 L1603.8,1170.3 L1605.7,1169.6 L1607.6,1169.0 L1609.4,1168.3 L1611.3,1167.6 L1613.2,1166.8 L1615.0,1166.1 L1616.9,1165.3 L1618.7,1164.6 L1620.6,1163.8 L1622.4,1163.0 L1623.3,1162.6 M1631.0,1159.0 L1632.8,1158.1 L1634.6,1157.3 L1636.4,1156.3 L1638.2,1155.4 L1640.0,1154.5 L1641.7,1153.6 L1643.5,1152.6 L1645.2,1151.6 L1647.0,1150.6 L1648.7,1149.6 L1650.4,1148.6 L1652.1,1147.6 L1652.6,1147.3 M1659.3,1143.1 L1661.0,1142.0 L1662.7,1140.9 L1664.3,1139.8 L1666.0,1138.6 L1667.6,1137.5 L1669.3,1136.3 L1670.9,1135.2 L1672.5,1134.0 L1674.1,1132.8 L1675.7,1131.6 L1677.3,1130.4 L1678.9,1129.2 M1685.1,1124.1 L1686.6,1122.9 L1688.2,1121.6 L1689.7,1120.3 L1691.2,1119.0 L1692.7,1117.7 L1694.2,1116.3 L1695.7,1115.0 L1697.2,1113.6 L1698.6,1112.3 L1700.1,1110.9 L1701.5,1109.5 L1702.2,1108.8 M1707.9,1103.2 L1709.3,1101.8 L1710.7,1100.3 L1712.1,1098.9 L1713.5,1097.4 L1714.8,1096.0 L1716.2,1094.5 L1717.5,1093.0 L1718.9,1091.5 L1720.2,1090.0 L1721.5,1088.5 L1722.8,1087.0 L1723.2,1086.6 M1728.3,1080.5 L1729.6,1079.0 L1730.9,1077.4 L1732.1,1075.9 L1733.4,1074.3 L1734.6,1072.7 L1735.8,1071.2 L1737.1,1069.6 L1738.3,1068.0 L1739.5,1066.4 L1740.7,1064.8 L1741.9,1063.2 M1746.3,1057.1 L1747.5,1055.5 L1748.6,1053.9 L1749.8,1052.2 L1750.9,1050.6 L1752.1,1049.0 L1753.2,1047.3 L1754.3,1045.7 L1755.4,1044.0 L1756.5,1042.3 L1757.7,1040.7 L1758.8,1039.0 M1762.8,1032.7 L1763.9,1031.0 L1765.0,1029.3 L1766.0,1027.6 L1767.1,1025.9 L1768.2,1024.2 L1769.2,1022.5 L1770.2,1020.8 L1771.3,1019.1 L1772.3,1017.4 L1773.3,1015.7 L1774.1,1014.4 M1777.9,1007.9 L1778.9,1006.2 L1779.9,1004.5 L1780.9,1002.7 L1781.8,1001.0 L1782.8,999.2 L1783.8,997.5 L1784.8,995.7 L1785.7,994.0 L1786.7,992.2 L1787.6,990.5 L1788.3,989.1 M1791.9,982.5 L1792.8,980.8 L1793.7,979.0 L1794.6,977.2 L1795.5,975.4 L1796.5,973.6 L1797.4,971.9 L1798.3,970.1 L1799.2,968.3 L1800.1,966.5 L1800.9,964.7 L1801.6,963.4 M1804.9,956.6 L1805.8,954.8 L1806.6,953.0 L1807.5,951.2 L1808.3,949.4 L1809.2,947.6 L1810.0,945.8 L1810.9,944.0 L1811.7,942.2 L1812.6,940.3 L1813.4,938.5 L1813.8,937.6 M1816.9,930.8 L1817.7,929.0 L1818.5,927.1 L1819.4,925.3 L1820.2,923.5 L1821.0,921.6 L1821.8,919.8 L1822.6,918.0 L1823.4,916.1 L1824.2,914.3 L1825.0,912.5 L1825.4,911.5 M1828.3,904.6 L1829.1,902.8 L1829.8,901.0 L1830.6,899.1 L1831.4,897.3 L1832.1,895.4 L1832.9,893.6 L1833.7,891.7 L1834.4,889.9 L1835.2,888.0 L1835.9,886.2 L1836.3,885.2 M1839.1,878.3 L1839.9,876.4 L1840.6,874.6 L1841.3,872.7 L1842.1,870.8 L1842.8,869.0 L1843.5,867.1 L1844.2,865.3 L1845.0,863.4 L1845.7,861.5 L1846.4,859.7 L1846.8,858.7 M1849.4,851.7 L1850.1,849.8 L1850.8,848.0 L1851.5,846.1 L1852.2,844.2 L1852.9,842.4 L1853.6,840.5 L1854.3,838.6 L1855.0,836.7 L1855.7,834.8 L1856.4,833.0 L1856.6,832.5 M1859.1,825.4 L1859.8,823.6 L1860.4,821.7 L1861.1,819.8 L1861.8,817.9 L1862.4,816.0 L1863.1,814.1 L1863.8,812.2 L1864.4,810.4 L1865.1,808.5 L1865.7,806.6 L1866.1,805.6 M1868.5,798.5 L1869.1,796.6 L1869.8,794.7 L1870.4,792.8 L1871.1,791.0 L1871.7,789.1 L1872.3,787.2 L1873.0,785.3 L1873.6,783.4 L1874.2,781.5 L1874.8,779.6 L1875.0,779.1 M1877.3,772.0 L1877.9,770.1 L1878.5,768.2 L1879.2,766.2 L1879.8,764.3 L1880.4,762.4 L1881.0,760.5 L1881.6,758.6 L1882.2,756.7 L1882.8,754.8 L1883.4,752.9 L1883.7,751.9 M1885.8,745.3 L1886.3,743.4 L1886.9,741.4 L1887.5,739.5 L1888.1,737.6 L1888.7,735.7 L1889.3,733.8 L1889.9,731.9 L1890.4,730.0 L1891.0,728.0 L1891.6,726.1 L1891.9,725.2 M1893.9,718.5 L1894.4,716.5 L1895.0,714.6 L1895.6,712.7 L1896.1,710.8 L1896.7,708.9 L1897.2,706.9 L1897.8,705.0 L1898.4,703.1 L1898.9,701.2 L1899.5,699.3 L1899.7,698.3 M1901.8,691.1 L1902.3,689.2 L1902.9,687.2 L1903.4,685.3 L1904.0,683.4 L1904.5,681.5 L1905.1,679.5 L1905.6,677.6 L1906.1,675.7 L1906.7,673.8 L1907.2,671.8 L1907.3,671.3 M1909.3,664.1 L1909.8,662.2 L1910.4,660.3 L1910.9,658.3 L1911.4,656.4 L1911.9,654.5 L1912.5,652.5 L1913.0,650.6 L1913.5,648.7 L1914.0,646.7 L1914.5,644.8 L1914.7,644.3 M1916.6,637.1 L1917.1,635.1 L1917.6,633.2 L1918.1,631.3 L1918.6,629.3 L1919.1,627.4 L1919.6,625.5 L1920.2,623.5 L1920.7,621.6 L1921.2,619.7 L1921.7,617.7 L1921.8,617.2 M1923.7,610.0 L1924.1,608.0 L1924.6,606.1 L1925.1,604.2 L1925.6,602.2 L1926.1,600.3 L1926.6,598.4 L1927.1,596.4 L1927.6,594.5 L1928.1,592.5 L1928.6,590.6 L1928.7,590.1 M1930.5,582.8 L1931.0,580.9 L1931.5,578.9 L1931.9,577.0 L1932.4,575.1 L1932.9,573.1 L1933.4,571.2 L1933.8,569.2 L1934.3,567.3 L1934.8,565.4 L1935.3,563.4 L1935.4,562.9 M1937.0,556.1 L1937.5,554.2 L1938.0,552.2 L1938.4,550.3 L1938.9,548.3 L1939.3,546.4 L1939.8,544.4 L1940.3,542.5 L1940.7,540.6 L1941.2,538.6 L1941.6,536.7 L1941.9,535.7 M1943.5,528.9 L1943.9,526.9 L1944.4,525.0 L1944.8,523.0 L1945.3,521.1 L1945.7,519.1 L1946.2,517.2 L1946.6,515.2 L1947.1,513.3 L1947.5,511.3 L1948.0,509.4 L1948.2,508.4 M1949.7,501.6 L1950.2,499.6 L1950.6,497.7 L1951.1,495.7 L1951.5,493.8 L1951.9,491.8 L1952.4,489.9 L1952.8,487.9 L1953.2,486.0 L1953.7,484.0 L1954.1,482.1 L1954.2,481.6 M1955.8,474.3 L1956.3,472.3 L1956.7,470.3 L1957.1,468.4 L1957.5,466.4 L1958.0,464.5 L1958.4,462.5 L1958.8,460.6 L1959.2,458.6 L1959.7,456.7 L1960.1,454.7 L1960.2,454.2 M1961.8,446.9 L1962.2,444.9 L1962.6,443.0 L1963.0,441.0 L1963.4,439.1 L1963.8,437.1 L1964.2,435.1 L1964.7,433.2 L1965.1,431.2 L1965.5,429.3 L1965.9,427.3 L1966.0,426.8 M1967.4,420.0 L1967.8,418.0 L1968.2,416.1 L1968.6,414.1 L1969.0,412.1 L1969.5,410.2 L1969.9,408.2 L1970.3,406.3 L1970.7,404.3 L1971.1,402.3 L1971.5,400.4 L1971.7,399.4 M1973.1,392.5 L1973.5,390.6 L1973.8,388.6 L1974.2,386.7 L1974.6,384.7 L1975.0,382.7 L1975.4,380.8 L1975.8,378.8 L1976.2,376.9 L1976.6,374.9 L1977.0,372.9 L1977.1,372.4 M1978.5,365.1 L1978.9,363.1 L1979.3,361.2 L1979.7,359.2 L1980.1,357.2 L1980.5,355.3 L1980.8,353.3 L1981.2,351.4 L1981.6,349.4 L1982.0,347.4 L1982.4,345.5 L1982.5,345.0 M1983.9,337.6 L1984.2,335.6 L1984.6,333.7 L1985.0,331.7 L1985.4,329.7 L1985.7,327.8 L1986.1,325.8 L1986.5,323.8 L1986.8,321.9 L1987.2,319.9 L1987.6,317.9 L1987.7,317.5 M1988.9,310.6 L1989.3,308.6 L1989.7,306.6 L1990.0,304.7 L1990.4,302.7 L1990.7,300.7 L1991.1,298.8 L1991.5,296.8 L1991.8,294.8 L1992.2,292.9 L1992.5,290.9 L1992.6,290.4 M1993.9,283.0 L1994.3,281.1 L1994.6,279.1 L1995.0,277.1 L1995.3,275.1 L1995.7,273.2 L1996.0,271.2 L1996.4,269.2 L1996.7,267.3 L1997.1,265.3 L1997.4,263.3 L1997.5,262.8 M1998.7,255.9 L1999.0,254.0 L1999.4,252.0 L1999.7,250.0 L2000.0,248.1 L2000.4,246.1 L2000.7,244.1 L2001.0,242.1 L2001.4,240.2 L2001.7,238.2 L2002.0,236.2 L2002.1,235.7 M2003.3,228.3 L2003.6,226.4 L2004.0,224.4 L2004.3,222.4 L2004.6,220.4 L2004.9,218.5 L2005.3,216.5 L2005.6,214.5 L2005.9,212.5 L2006.2,210.6 L2006.5,208.6 L2006.6,208.1 M2007.8,200.7 L2008.1,198.7 L2008.4,196.7 L2008.7,194.8 L2009.0,192.8 L2009.3,190.8 L2009.6,188.8 L2009.9,186.8 L2010.2,184.9 L2010.5,182.9 L2010.8,180.9 L2010.9,180.4 M2011.9,173.5 L2012.2,171.5 L2012.5,169.5 L2012.8,167.6 L2013.1,165.6 L2013.3,164.1"/>
</g>
<path d="M372.6,128.2 L377.6,139.6 L382.6,150.8 L387.6,161.9 L392.6,172.9 L397.7,183.8 L402.7,194.5 L407.7,205.2 L412.7,215.7 L417.7,226.1 L422.7,236.3 L427.7,246.5 L432.7,256.6 L437.7,266.5 L442.7,276.4 L447.8,286.1 L452.8,295.7 L457.8,305.3 L462.8,314.7 L467.8,324.1 L472.8,333.3 L477.8,342.5 L482.8,351.5 L487.8,360.5 L492.8,369.4 L497.9,378.2 L502.9,386.9 L507.9,395.5 L512.9,404.1 L517.9,412.6 L522.9,421.0 L527.9,429.3 L532.9,437.5 L537.9,445.7 L542.9,453.8 L548.0,461.8 L553.0,469.7 L558.0,477.6 L563.0,485.4 L568.0,493.1 L573.0,500.8 L578.0,508.4 L583.0,516.0 L588.0,523.4 L593.0,530.9 L598.1,538.2 L603.1,545.5 L608.1,552.8 L613.1,559.9 L618.1,567.1 L623.1,574.1 L628.1,581.1 L633.1,588.1 L638.1,595.0 L643.1,601.8 L648.2,608.6 L653.2,615.4 L658.2,622.1 L663.2,628.7 L668.2,635.3 L673.2,641.9 L678.2,648.4 L683.2,654.8 L688.2,661.2 L693.2,667.6 L698.3,673.9 L703.3,680.1 L708.3,686.3 L713.3,692.5 L718.3,698.6 L723.3,704.7 L728.3,710.8 L733.3,716.8 L738.3,722.7 L743.3,728.6 L748.4,734.5 L753.4,740.3 L758.4,746.1 L763.4,751.9 L768.4,757.6 L773.4,763.3 L778.4,768.9 L783.4,774.5 L788.4,780.1 L793.4,785.6 L798.5,791.1 L803.5,796.6 L808.5,802.0 L813.5,807.4 L818.5,812.7 L823.5,818.0 L828.5,823.3 L833.5,828.5 L838.5,833.7 L843.5,838.9 L848.6,844.1 L853.6,849.2 L858.6,854.3 L863.6,859.3 L868.6,864.3 L873.6,869.3 L878.6,874.2 L883.6,879.2 L888.6,884.1 L893.6,888.9 L898.7,893.7 L903.7,898.6 L908.7,903.3 L913.7,908.1 L918.7,912.8 L923.7,917.5 L928.7,922.1 L933.7,926.7 L938.7,931.3 L943.7,935.9 L948.8,940.5 L953.8,945.0 L958.8,949.4 L963.8,953.9 L968.8,958.3 L973.8,962.7 L978.8,967.1 L983.8,971.5 L988.8,975.8 L993.8,980.1 L998.9,984.3 L1003.9,988.5 L1008.9,992.8 L1013.9,996.9 L1018.9,1001.1 L1023.9,1005.2 L1028.9,1009.3 L1033.9,1013.4 L1038.9,1017.4 L1043.9,1021.4 L1049.0,1025.4 L1054.0,1029.4 L1059.0,1033.3 L1064.0,1037.2 L1069.0,1041.1 L1074.0,1044.9 L1079.0,1048.7 L1084.0,1052.5 L1089.0,1056.3 L1094.0,1060.1 L1099.1,1063.8 L1104.1,1067.5 L1109.1,1071.1 L1114.1,1074.8 L1119.1,1078.4 L1124.1,1082.0 L1129.1,1085.5 L1134.1,1089.1 L1139.1,1092.6 L1144.1,1096.0 L1149.2,1099.5 L1154.2,1102.9 L1159.2,1106.3 L1164.2,1109.7 L1169.2,1113.1 L1174.2,1116.4 L1179.2,1119.7 L1184.2,1123.0 L1189.2,1126.3 L1194.2,1129.5 L1199.3,1132.7 L1204.3,1135.9 L1209.3,1139.0 L1214.3,1142.2 L1219.3,1145.3 L1224.3,1148.3 L1229.3,1151.4 L1234.3,1154.4 L1239.3,1157.4 L1244.3,1160.4 L1249.4,1163.4 L1254.4,1166.3 L1259.4,1169.2 L1264.4,1172.1 L1269.4,1174.9 L1274.4,1177.7 L1279.4,1180.5 L1284.4,1183.3 L1289.4,1186.1 L1294.4,1188.8 L1299.5,1191.5 L1304.5,1194.2 L1309.5,1196.8 L1314.5,1199.5 L1319.5,1202.1 L1324.5,1204.7 L1329.5,1207.2 L1334.5,1209.8 L1339.5,1212.3 L1344.5,1214.8 L1349.6,1217.2 L1354.6,1219.7 L1359.6,1222.1 L1364.6,1224.5 L1369.6,1226.8 L1374.6,1229.2 L1379.6,1231.5 L1384.6,1233.8 L1389.6,1236.1 L1394.6,1238.4 L1399.7,1240.6 L1404.7,1242.8 L1409.7,1245.0 L1414.7,1247.2 L1419.7,1249.3 L1424.7,1251.4 L1429.7,1253.5 L1434.7,1255.6 L1439.7,1257.7 L1444.7,1259.7 L1449.8,1261.7 L1454.8,1263.7 L1459.8,1265.7 L1464.8,1267.6 L1469.8,1269.6 L1474.8,1271.5 L1479.8,1273.4 L1484.8,1275.3 L1489.8,1277.1 L1494.8,1279.0 L1499.9,1280.8 L1504.9,1282.6 L1509.9,1284.3 L1514.9,1286.1 L1519.9,1287.8 L1524.9,1289.5 L1529.9,1291.2 L1534.9,1292.9 L1539.9,1294.6 L1544.9,1296.2 L1550.0,1297.9 L1555.0,1299.5 L1560.0,1301.1 L1565.0,1302.6 L1570.0,1304.2 L1575.0,1305.7 L1580.0,1307.3 L1585.0,1308.8 L1590.0,1310.3 L1595.0,1311.7 L1600.1,1313.2 L1605.1,1314.7 L1610.1,1316.1 L1615.1,1317.5 L1620.1,1318.9 L1625.1,1320.3 L1630.1,1321.6 L1635.1,1323.0 L1640.1,1324.3 L1645.1,1325.7 L1650.2,1327.0 L1655.2,1328.3 L1660.2,1329.5 L1665.2,1330.8 L1670.2,1332.1 L1675.2,1333.3 L1680.2,1334.5 L1685.2,1335.8 L1690.2,1337.0 L1695.2,1338.1 L1700.3,1339.3 L1705.3,1340.5 L1710.3,1341.6 L1715.3,1342.8 L1720.3,1343.9 L1725.3,1345.0 L1730.3,1346.1 L1735.3,1347.2 L1740.3,1348.3 L1745.3,1349.3 L1750.4,1350.4 L1755.4,1351.4 L1760.4,1352.5 L1765.4,1353.5 L1770.4,1354.5 L1775.4,1355.5 L1780.4,1356.5 L1785.4,1357.5 L1790.4,1358.4 L1795.4,1359.4 L1800.5,1360.3 L1805.5,1361.3 L1810.5,1362.2 L1815.5,1363.1 L1820.5,1364.0 L1825.5,1364.9 L1830.5,1365.8 L1835.5,1366.7 L1840.5,1367.5 L1845.5,1368.4 L1850.6,1369.3 L1855.6,1370.1 L1860.6,1370.9 L1865.6,1371.8 L1870.6,1372.6 L1875.6,1373.4 L1880.6,1374.2 L1885.6,1375.0 L1890.6,1375.7 L1895.6,1376.5 L1900.7,1377.3 L1905.7,1378.0 L1910.7,1378.8 L1915.7,1379.5 L1920.7,1380.2 L1925.7,1381.0 L1930.7,1381.7 L1935.7,1382.4 L1940.7,1383.1 L1945.7,1383.8 L1950.8,1384.5 L1955.8,1385.1 L1960.8,1385.8 L1965.8,1386.5 L1970.8,1387.1 L1975.8,1387.8 L1980.8,1388.4 L1985.8,1389.1 L1990.8,1389.7 L1995.8,1390.3 L2000.9,1390.9 L2005.9,1391.5 L2010.9,1392.1 L2015.9,1392.7 L2020.9,1393.3 L2025.9,1393.9 L2030.9,1394.5 L2035.9,1395.1 L2040.9,1395.6 L2045.9,1396.2 L2051.0,1396.7 L2056.0,1397.3 L2061.0,1397.8 L2066.0,1398.4 L2071.0,1398.9 L2076.0,1399.4 L2081.0,1399.9 L2086.0,1400.4 L2091.0,1400.9 L2096.0,1401.5 L2101.1,1401.9 L2106.1,1402.4 L2111.1,1402.9 L2116.1,1403.4 L2121.1,1403.9 L2126.1,1404.4 L2131.1,1404.8 L2136.1,1405.3 L2141.1,1405.7 L2146.1,1406.2 L2151.2,1406.6 L2156.2,1407.1 L2161.2,1407.5 L2166.2,1408.0 L2171.2,1408.4 L2176.2,1408.8 L2181.2,1409.2 L2186.2,1409.6 L2191.2,1410.1 L2196.2,1410.5 L2201.3,1410.9 L2206.3,1411.3 L2211.3,1411.7 L2216.3,1412.0 L2221.3,1412.4 L2226.3,1412.8 L2231.3,1413.2 L2236.3,1413.6 L2241.3,1413.9 L2246.3,1414.3 L2251.4,1414.7 L2256.4,1415.0 L2261.4,1415.4 L2266.4,1415.7 L2271.4,1416.1 L2276.4,1416.4 L2281.4,1416.8 L2286.4,1417.1 L2291.4,1417.4 L2296.4,1417.8 L2301.5,1418.1 L2306.5,1418.4 L2311.5,1418.7 L2316.5,1419.0 L2321.5,1419.4 L2326.5,1419.7 L2331.5,1420.0 L2336.5,1420.3 L2341.5,1420.6 L2346.5,1420.9 L2351.6,1421.2 L2356.6,1421.5 L2361.6,1421.8 L2366.6,1422.0 L2371.6,1422.3" fill="none" stroke="#ff0000" stroke-width="9.8" stroke-linecap="butt" stroke-linejoin="round"/>
<circle cx="652.8" cy="611.8" r="10.4" fill="#ff0000"/>
<circle cx="1080.5" cy="1048.0" r="10.4" fill="#ff0000"/>
<circle cx="1509.0" cy="1282.6" r="10.4" fill="#ff0000"/>
<circle cx="1939.6" cy="1380.6" r="10.4" fill="#ff0000"/>
<g font-family="'Liberation Sans', Arial, sans-serif" font-size="62.3" fill="#1a1a1a" stroke="#1a1a1a" stroke-width="0.7">
<text transform="translate(187.6,1480.5) scale(1,1.04)" text-anchor="end">0</text>
<text transform="translate(190.5,1212.4) scale(1,1.04)" text-anchor="end">1</text>
<text transform="translate(190.5,943.4) scale(1,1.04)" text-anchor="end">2</text>
<text transform="translate(190.5,674.7) scale(1,1.04)" text-anchor="end">3</text>
<text transform="translate(190.5,401.7) scale(1,1.04)" text-anchor="end">4</text>
<text transform="translate(190.5,137.3) scale(1,1.04)" text-anchor="end">5</text>
<text transform="translate(219.4,1564.6) scale(1,1.04)" text-anchor="middle">0</text>
<text transform="translate(506.8,1572.6) scale(1,1.04)" text-anchor="middle">20</text>
<text transform="translate(791.4,1577.6) scale(1,1.04)" text-anchor="middle">40</text>
<text transform="translate(1078.4,1577.8) scale(1,1.04)" text-anchor="middle">60</text>
<text transform="translate(1367.2,1577.8) scale(1,1.04)" text-anchor="middle">80</text>
<text transform="translate(1651.8,1578.0) scale(1,1.04)" text-anchor="middle">100</text>
<text transform="translate(1939.0,1578.0) scale(1,1.04)" text-anchor="middle">120</text>
<text transform="translate(2225.0,1578.0) scale(1,1.04)" text-anchor="middle">140</text>
</g>
<g font-family="'Liberation Sans', Arial, sans-serif" font-size="61.6" font-weight="bold" fill="#111" word-spacing="4">
<text x="785" y="1667.5" textLength="1279" lengthAdjust="spacing">Serum 25-hydroxyvitamin D levels (nmol/L)</text>
<text transform="translate(101.5,1421.5) rotate(-90)" textLength="1274" lengthAdjust="spacing">Hazard ratio (respiratory disease mortality)</text>
</g>
<g font-family="'Liberation Sans', Arial, sans-serif" font-size="61.2" fill="#1a1a1a" stroke="#1a1a1a" stroke-width="0.7" word-spacing="4.6">
<text x="494.5" y="1760.3" textLength="284" lengthAdjust="spacing">Estimation</text>
<text x="496.5" y="1850.5" textLength="691.5" lengthAdjust="spacing">Confidence interval limits</text>
<text x="492.5" y="1942.2" textLength="943" lengthAdjust="spacing">Null effect value (hazard ratio = 1)</text>
<text x="492" y="2031.9" textLength="156.5" lengthAdjust="spacing">Knots</text>
<text x="137.6" y="1850.8" textLength="194.5" lengthAdjust="spacing">Curved</text>
<text x="55.5" y="1942.4" textLength="274.5" lengthAdjust="spacing">Horizontal</text>
</g>
<path d="M381.5,1742.7 H463.4" stroke="#111" stroke-width="6.5" fill="none"/>
<path d="M383.9,1834.3 H462" stroke="#a9a9a9" stroke-width="4.2" stroke-dasharray="18.3 11.4" fill="none"/>
<path d="M379.1,1920.4 H457" stroke="#a6a6a6" stroke-width="4.2" stroke-dasharray="20 10" fill="none"/>
<circle cx="391.2" cy="2017.8" r="6.9" fill="#f0000c" stroke="#8e0000" stroke-width="1.6"/>
<circle cx="421.5" cy="2017.8" r="6.9" fill="#f0000c" stroke="#8e0000" stroke-width="1.6"/>
<circle cx="451.3" cy="2017.8" r="6.9" fill="#f0000c" stroke="#8e0000" stroke-width="1.6"/>
</svg>
</body></html>
